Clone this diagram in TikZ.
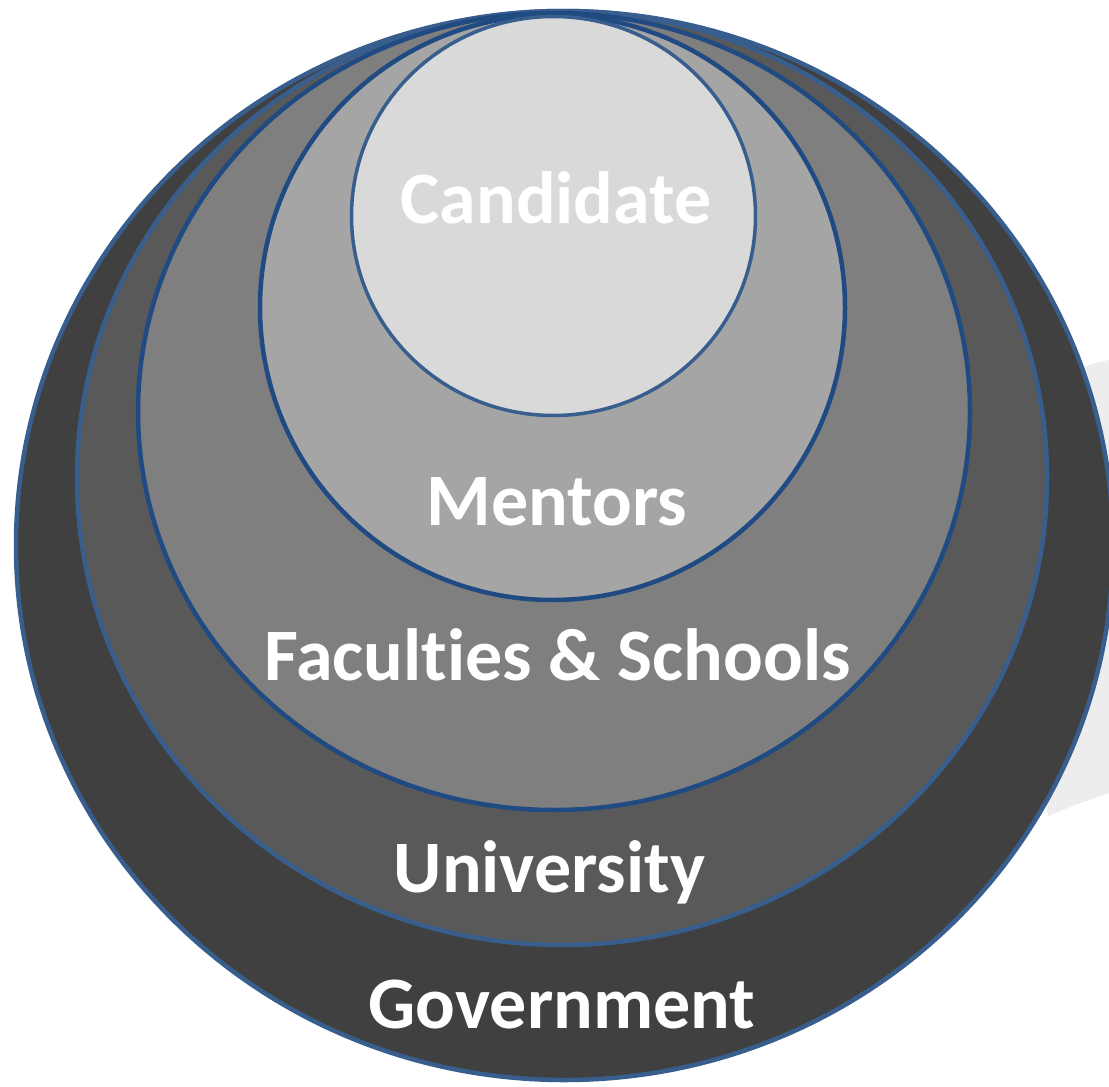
\documentclass[tikz,border=0pt]{standalone}
\usepackage{fontspec}
\setmainfont{Carlito}[Ligatures=NoCommon]
\definecolor{edgeA}{RGB}{56,94,142}
\definecolor{edgeB}{RGB}{31,74,130}
\definecolor{govfill}{RGB}{64,64,64}
\definecolor{unifill}{RGB}{89,89,89}
\definecolor{facfill}{RGB}{127,127,127}
\definecolor{menfill}{RGB}{165,165,165}
\definecolor{canfill}{RGB}{217,217,217}
\definecolor{shadowgray}{RGB}{237,237,237}
\tikzset{
  ring/.style={line width=4.5pt},
  lbl/.style={anchor=base, text=white, font=\bfseries\fontsize{74}{74}\selectfont, inner sep=0pt}
}
\begin{document}
\begin{tikzpicture}[x=1pt,y=-1pt]
\useasboundingbox (0,0) rectangle (1109,1087);
% soft shadow on the right
\fill[shadowgray] (1000,500) -- (1070,372) -- (1095,363) -- (1109,360) -- (1109,793) -- (1075,805) -- (1048,816) -- cycle;
% rings, outer to inner
\draw[ring, draw=edgeA, fill=govfill] (564.5,545.5) ellipse [x radius=548.5, y radius=534.5];
\draw[ring, draw=edgeA, fill=unifill] (562,478) ellipse [x radius=485, y radius=467];
\draw[ring, draw=edgeB, fill=facfill] (554,411.5) ellipse [x radius=416, y radius=398.5];
\draw[ring, draw=edgeB, fill=menfill] (552.5,307.5) ellipse [x radius=292.5, y radius=292.5];
\draw[line width=3.5pt, draw=edgeA, fill=canfill] (553.5,216) ellipse [x radius=202, y radius=199.5];
% labels
\node[lbl] (cand) at (556,223) {Candidate};
\node[lbl] (ment) at (557,525) {Mentors};
\node[lbl] (fac) at (557.5,680) {Faculties \& Schools};
\node[lbl] (uni) at (549.5,892) {University};
\node[lbl] (gov) at (562,1028) {Government};
\end{tikzpicture}
\end{document}
